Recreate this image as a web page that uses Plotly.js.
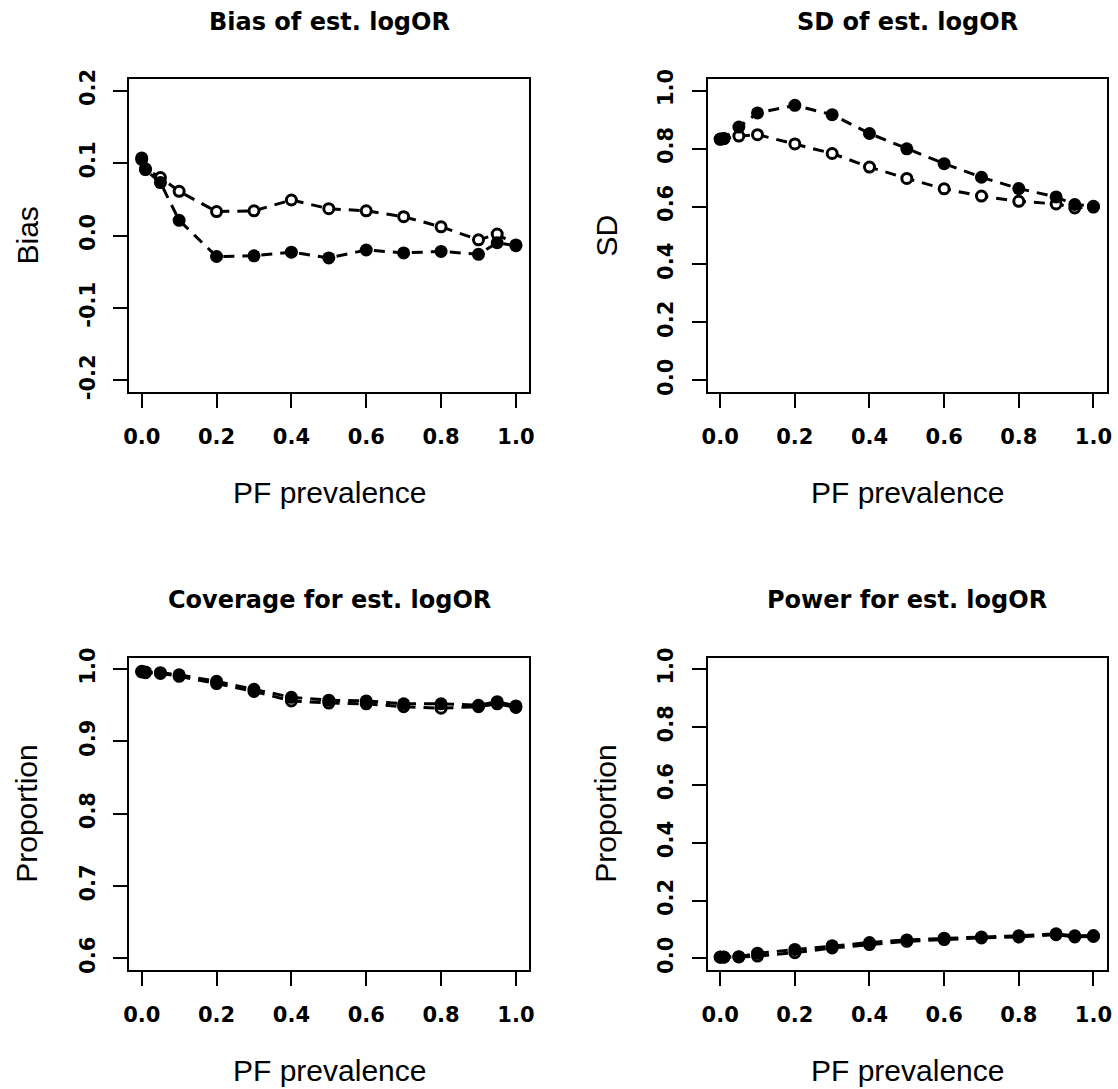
<!DOCTYPE html>
<html>
<head>
<meta charset="utf-8">
<script src="https://cdn.plot.ly/plotly-3.0.1.min.js"></script>
<style>html,body{margin:0;padding:0;background:#fff;}#chart{width:1118px;height:1089px;}</style>
</head>
<body>
<div id="chart"></div>
<script>
// ---- data ----
const prevalence = [0, 0.01, 0.05, 0.1, 0.2, 0.3, 0.4, 0.5, 0.6, 0.7, 0.8, 0.9, 0.95, 1.0];

const biasFilled = [0.107, 0.091, 0.073, 0.021, -0.029, -0.028, -0.023, -0.031, -0.020, -0.024, -0.022, -0.026, -0.010, -0.014];
const biasOpen   = [0.105, 0.092, 0.080, 0.061, 0.033, 0.034, 0.049, 0.037, 0.034, 0.026, 0.012, -0.006, 0.002, -0.013];

const sdFilled = [0.833, 0.835, 0.874, 0.923, 0.949, 0.917, 0.852, 0.799, 0.748, 0.701, 0.662, 0.633, 0.607, 0.601];
const sdOpen   = [0.832, 0.834, 0.843, 0.848, 0.816, 0.783, 0.736, 0.697, 0.661, 0.636, 0.618, 0.609, 0.595, 0.598];

const covFilled = [0.997, 0.996, 0.995, 0.992, 0.983, 0.972, 0.961, 0.957, 0.956, 0.952, 0.952, 0.950, 0.955, 0.949];
const covOpen   = [0.996, 0.995, 0.994, 0.990, 0.980, 0.969, 0.956, 0.953, 0.952, 0.948, 0.946, 0.948, 0.952, 0.947];

const powFilled = [0.005, 0.005, 0.006, 0.018, 0.031, 0.044, 0.055, 0.064, 0.070, 0.074, 0.078, 0.085, 0.078, 0.079];
const powOpen   = [0.004, 0.004, 0.005, 0.008, 0.020, 0.036, 0.048, 0.059, 0.065, 0.071, 0.074, 0.082, 0.074, 0.076];

const panelTitles = ["Bias of est. logOR", "SD of est. logOR", "Coverage for est. logOR", "Power for est. logOR"];
const yTitles = ["Bias", "SD", "Proportion", "Proportion"];
const xTitle = "PF prevalence";

const xTicks = [0, 0.2, 0.4, 0.6, 0.8, 1.0];
const xTickText = ["0.0", "0.2", "0.4", "0.6", "0.8", "1.0"];
const biasTicks = [-0.2, -0.1, 0, 0.1, 0.2];
const biasTickText = ["-0.2", "-0.1", "0.0", "0.1", "0.2"];
const unitTicks = [0, 0.2, 0.4, 0.6, 0.8, 1.0];
const unitTickText = ["0.0", "0.2", "0.4", "0.6", "0.8", "1.0"];
const covTicks = [0.6, 0.7, 0.8, 0.9, 1.0];
const covTickText = ["0.6", "0.7", "0.8", "0.9", "1.0"];

// ---- layout helpers ----
const W = 1118, H = 1089;
const px = x => x / W;
const py = y => 1 - y / H;

const colsPx = [[129, 529], [707.5, 1106.5]];
const rowsPx = [[79, 392], [657.5, 970]];

const lineStyle = {color: "black", width: 3, dash: "11px,8px"};

function series(y, filled, xa, ya) {
  return {
    x: prevalence, y: y, xaxis: xa, yaxis: ya,
    type: "scatter", mode: "lines+markers",
    line: lineStyle,
    marker: filled
      ? {symbol: "circle", size: 13, color: "black", line: {width: 0}}
      : {symbol: "circle", size: 10, color: "white", line: {width: 3, color: "black"}},
    showlegend: false, hoverinfo: "x+y"
  };
}

const data = [
  series(biasOpen, false, "x", "y"), series(biasFilled, true, "x", "y"),
  series(sdOpen, false, "x2", "y2"), series(sdFilled, true, "x2", "y2"),
  series(covOpen, false, "x3", "y3"), series(covFilled, true, "x3", "y3"),
  series(powOpen, false, "x4", "y4"), series(powFilled, true, "x4", "y4")
];

const tickFont = {family: "DejaVu Sans", size: 21, color: "black", weight: "bold"};

function xaxis(col, row, anchor) {
  return {
    domain: [px(colsPx[col][0]), px(colsPx[col][1])],
    anchor: anchor,
    range: [-0.034, 1.035],
    tickmode: "array", tickvals: xTicks, ticktext: xTickText,
    ticks: "outside", ticklen: 14, tickwidth: 2, tickcolor: "black",
    showline: true, mirror: true, linewidth: 2, linecolor: "black",
    showgrid: false, zeroline: false,
    tickfont: tickFont, ticklabelstandoff: 11, fixedrange: true
  };
}
function yaxis(col, row, anchor, range, vals, text) {
  return {
    domain: [py(rowsPx[row][1]), py(rowsPx[row][0])],
    anchor: anchor,
    range: range,
    tickmode: "array", tickvals: vals, ticktext: text,
    ticks: "outside", ticklen: 14, tickwidth: 2, tickcolor: "black",
    showline: true, mirror: true, linewidth: 2, linecolor: "black",
    showgrid: false, zeroline: false, tickangle: -90,
    tickfont: tickFont, ticklabelstandoff: 10, fixedrange: true
  };
}

const annotations = [];
const titleFont = {family: "DejaVu Sans", size: 24, color: "black", weight: "bold"};
const labFont = {family: "Liberation Sans", size: 30, color: "black"};
const titleY = [22, 600];
const xLabY = [492, 1070];
const yLabX = [27, 606];
for (let r = 0; r < 2; r++) {
  for (let c = 0; c < 2; c++) {
    const i = r * 2 + c;
    const cx = (colsPx[c][0] + colsPx[c][1]) / 2;
    const cy = (rowsPx[r][0] + rowsPx[r][1]) / 2;
    annotations.push({text: panelTitles[i], xref: "paper", yref: "paper", x: px(cx), y: py(titleY[r]),
      xanchor: "center", yanchor: "middle", showarrow: false, font: titleFont});
    annotations.push({text: xTitle, xref: "paper", yref: "paper", x: px(cx), y: py(xLabY[r]),
      xanchor: "center", yanchor: "middle", showarrow: false, font: labFont});
    annotations.push({text: yTitles[i], xref: "paper", yref: "paper", x: px(yLabX[c]), y: py(cy),
      xanchor: "center", yanchor: "middle", showarrow: false, font: labFont, textangle: -90});
  }
}

const layout = {
  width: W, height: H,
  margin: {l: 0, r: 0, t: 0, b: 0},
  paper_bgcolor: "white", plot_bgcolor: "white",
  showlegend: false,
  xaxis: xaxis(0, 0, "y"),
  xaxis2: xaxis(1, 0, "y2"),
  xaxis3: xaxis(0, 1, "y3"),
  xaxis4: xaxis(1, 1, "y4"),
  yaxis: yaxis(0, 0, "x", [-0.216, 0.216], biasTicks, biasTickText),
  yaxis2: yaxis(1, 0, "x2", [-0.04, 1.04], unitTicks, unitTickText),
  yaxis3: yaxis(0, 1, "x3", [0.584, 1.016], covTicks, covTickText),
  yaxis4: yaxis(1, 1, "x4", [-0.04, 1.04], unitTicks, unitTickText),
  annotations: annotations
};

Plotly.newPlot("chart", data, layout, {staticPlot: true, displayModeBar: false});
</script>
</body>
</html>
